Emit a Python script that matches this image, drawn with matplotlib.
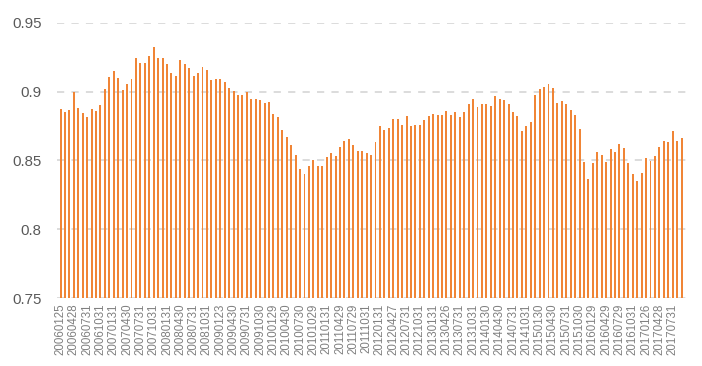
import matplotlib
matplotlib.use("Agg")
import matplotlib.pyplot as plt

# monthly values, 2006-01 .. 2017-09
values = [
    0.887, 0.885, 0.8867, 0.900, 0.888, 0.8845, 0.8816, 0.887, 0.8857, 0.890,
    0.902, 0.9106, 0.915, 0.910, 0.901, 0.9053, 0.909, 0.9247, 0.9206, 0.921,
    0.926, 0.9327, 0.9247, 0.9242, 0.920, 0.9138, 0.9114, 0.923, 0.9198, 0.9172,
    0.9114, 0.9133, 0.918, 0.9157, 0.9085, 0.909, 0.909, 0.907, 0.9027, 0.9005,
    0.8973, 0.8978, 0.8998, 0.8944, 0.8947, 0.894, 0.8918, 0.8925, 0.8838, 0.8816,
    0.8722, 0.8671, 0.8608, 0.854, 0.8436, 0.8403, 0.846, 0.8502, 0.846, 0.846,
    0.8523, 0.8552, 0.8528, 0.8598, 0.8642, 0.8654, 0.8608, 0.8569, 0.8569, 0.8557,
    0.854, 0.8632, 0.8746, 0.8717, 0.8736, 0.8802, 0.8802, 0.8758, 0.8821, 0.8753,
    0.8758, 0.8758, 0.879, 0.8821, 0.8838, 0.8826, 0.8826, 0.8862, 0.8831, 0.885,
    0.8814, 0.885, 0.891, 0.8944, 0.8886, 0.891, 0.8906, 0.8894, 0.8969, 0.8944,
    0.8937, 0.8906, 0.885, 0.8821, 0.8712, 0.8746, 0.8777, 0.8978, 0.9019, 0.9034,
    0.9058, 0.9024, 0.8918, 0.8932, 0.891, 0.8869, 0.8833, 0.8729, 0.849, 0.8364,
    0.848, 0.856, 0.8536, 0.849, 0.8584, 0.856, 0.862, 0.8591, 0.848, 0.8403,
    0.8352, 0.8407, 0.8516, 0.8497, 0.8531, 0.8598, 0.8644, 0.8632, 0.8712, 0.8644,
    0.8666,
]

tick_labels = [
    "20060125", "20060428", "20060731", "20061031", "20070131", "20070430",
    "20070731", "20071031", "20080131", "20080430", "20080731", "20081031",
    "20090123", "20090430", "20090731", "20091030", "20100129", "20100430",
    "20100730", "20101029", "20110131", "20110429", "20110729", "20111031",
    "20120131", "20120427", "20120731", "20121031", "20130131", "20130426",
    "20130731", "20131031", "20140130", "20140430", "20140731", "20141031",
    "20150130", "20150430", "20150731", "20151030", "20160129", "20160429",
    "20160729", "20161031", "20170126", "20170428", "20170731",
]

x = list(range(len(values)))
tick_pos = x[::3][:len(tick_labels)]

fig = plt.figure(figsize=(7.02, 3.66), dpi=100)
ax = fig.add_axes([57 / 702, 68 / 366, (686 - 57) / 702, (298 - 22.7) / 366])

ax.bar(x, values, width=0.44, color='#F08536', zorder=3)

ax.set_ylim(0.75, 0.95)
ax.set_xlim(-0.8, 141.0)
ax.set_yticks([0.75, 0.8, 0.85, 0.9, 0.95])
ax.set_yticklabels(['0.75', '0.8', '0.85', '0.9', '0.95'],
                   fontsize=10.8, color='#595959', family='Liberation Sans')
ax.set_xticks(tick_pos)
ax.set_xticklabels(tick_labels, rotation=90, fontsize=8.3, color='#808080',
                   family='Liberation Sans')
ax.tick_params(length=0, pad=4)
ax.tick_params(axis='y', pad=11)

ax.grid(True, axis='y', color='#d9d9d9', linestyle=(0, (4, 4)), linewidth=1.3, zorder=0)
for s in ax.spines.values():
    s.set_visible(False)

plt.savefig('out.png', dpi=100)
